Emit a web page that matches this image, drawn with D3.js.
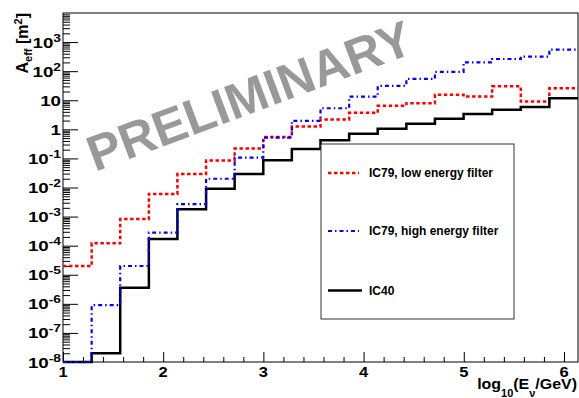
<!DOCTYPE html>
<html><head><meta charset="utf-8">
<script src="https://cdn.jsdelivr.net/npm/d3@7"></script>
<style>
body{margin:0;background:#fff}
svg{display:block;font-family:"Liberation Sans",Arial,Helvetica,sans-serif;font-weight:bold}
</style>
</head><body>
<svg id="c" width="579" height="398"></svg>
<script>
// ---- data ----
const binEdges = [1.000,1.286,1.571,1.857,2.142,2.428,2.713,2.999,3.284,3.570,3.856,4.141,4.427,4.712,4.998,5.283,5.569,5.854,6.140];
const ic79Low  = [2e-5,1.2e-4,8.2e-4,6e-3,0.029,0.085,0.22,0.54,1.25,2.2,3.7,6.5,7.9,15.4,13.4,30,9.1,26];
const ic79High = [1e-8,9e-7,2e-5,2.8e-4,2.7e-3,0.02,0.107,0.52,1.95,5.3,13.4,31,54,95,200,262,318,550];
const ic40     = [1e-8,2e-8,3.6e-6,1.7e-4,1.8e-3,9e-3,0.029,0.086,0.21,0.42,0.71,1.05,1.55,2.3,3.4,4.7,5.9,11.8];
const xMajorTicks = [1,2,3,4,5,6];
const yDecadeExps = [-8,-7,-6,-5,-4,-3,-2,-1,0,1,2,3];
const legendLabels = ["IC79, low energy filter","IC79, high energy filter","IC40"];
const xDomain = [1, 6.14];
const yDomain = [1e-8, 1e4];

// ---- layout ----
const L = 63, R = 578, T = 13, B = 362;
const svg = d3.select("#c");
const x = d3.scaleLinear().domain(xDomain).range([L, R]);
const y = d3.scaleLog().domain(yDomain).range([B, T]);

// watermark
svg.append("text")
  .attr("transform", "translate(95,172) rotate(-20.5)")
  .attr("font-size", 50).attr("fill", "#999")
  .text("PRELIMINARY");

// minor ticks
const xMinor = [];
for (let v = 1; v <= 6.14 + 1e-9; v = Math.round((v + 0.2) * 10) / 10) if (Math.abs(v - Math.round(v)) > 1e-6) xMinor.push(v);
const yMinor = [];
for (let e = -8; e < 4; e++) for (let m = 2; m <= 9; m++) yMinor.push(m * Math.pow(10, e));

svg.append("g").attr("transform", `translate(0,${B})`)
  .call(d3.axisBottom(x).tickValues(xMinor).tickSizeInner(-5).tickSizeOuter(0).tickFormat(""))
  .call(g => g.select(".domain").remove());
svg.append("g").attr("transform", `translate(0,${B})`)
  .call(d3.axisBottom(x).tickValues(xMajorTicks).tickSizeInner(-10).tickSizeOuter(0).tickFormat(""))
  .call(g => g.select(".domain").remove());
svg.append("g").attr("transform", `translate(${L},0)`)
  .call(d3.axisLeft(y).tickValues(yMinor).tickSizeInner(-7).tickSizeOuter(0).tickFormat(""))
  .call(g => g.select(".domain").remove());
svg.append("g").attr("transform", `translate(${L},0)`)
  .call(d3.axisLeft(y).tickValues(yDecadeExps.map(e => Math.pow(10, e))).tickSizeInner(-15).tickSizeOuter(0).tickFormat(""))
  .call(g => g.select(".domain").remove());

// x tick labels
svg.append("g").selectAll("text").data(xMajorTicks).join("text")
  .attr("transform", d => `translate(${x(d)},377) scale(1.1,1)`)
  .attr("text-anchor", "middle")
  .attr("font-size", 15).text(d => d);

// y tick labels
const yl = svg.append("g").selectAll("text").data(yDecadeExps).join("text")
  .attr("transform", d => `translate(61,${y(Math.pow(10, d)) + 5.5}) scale(1.25,1)`)
  .attr("text-anchor", "end")
  .attr("font-size", 15);
yl.each(function(d) {
  const t = d3.select(this);
  if (d === 0) t.text("1");
  else if (d === 1) t.text("10");
  else {
    t.append("tspan").text("10");
    t.append("tspan").attr("font-size", 11).attr("dy", -6).text(d);
  }
});

// frame
svg.append("rect").attr("x", L).attr("y", T).attr("width", R - L).attr("height", B - T)
  .attr("fill", "none").attr("stroke", "#000").attr("stroke-width", 1);

// histograms
function stepPts(vals) {
  const pts = vals.map((v, i) => [binEdges[i], v]);
  pts.push([binEdges[binEdges.length - 1], vals[vals.length - 1]]);
  return pts;
}
const line = d3.line().x(d => x(d[0])).y(d => y(d[1])).curve(d3.curveStepAfter);
const series = [
  {vals: ic79Low, color: "#ff0000", dash: "3.5,2.5", w: 2.5},
  {vals: ic40, color: "#000000", dash: null, w: 2.5},
  {vals: ic79High, color: "#0000ff", dash: "4,3,1.5,3", w: 2.2}
];
series.forEach(s => {
  svg.append("path").attr("d", line(stepPts(s.vals)))
    .attr("fill", "none").attr("stroke", s.color).attr("stroke-width", s.w)
    .attr("stroke-dasharray", s.dash);
});

// legend
svg.append("rect").attr("x", 321).attr("y", 144).attr("width", 193).attr("height", 175)
  .attr("fill", "#fff").attr("stroke", "#333").attr("stroke-width", 1);
const legStyles = [series[0], series[2], series[1]];
const legY = [173, 231, 290.5];
legendLabels.forEach((lab, i) => {
  const s = legStyles[i];
  svg.append("line").attr("x1", 328).attr("x2", i === 2 ? 362 : 359).attr("y1", legY[i]).attr("y2", legY[i])
    .attr("stroke", s.color).attr("stroke-width", s.w).attr("stroke-dasharray", s.dash);
  svg.append("text").attr("x", 369).attr("y", legY[i] + 4.2).attr("font-size", 12).text(lab);
});

// axis titles
const xt = svg.append("text").attr("transform", "translate(577,389) scale(1.1,1)")
  .attr("text-anchor", "end").attr("font-size", 14.5);
xt.append("tspan").text("log");
xt.append("tspan").attr("font-size", 10).attr("dy", 8).text("10");
xt.append("tspan").attr("dy", -8).text("(E");
xt.append("tspan").attr("font-size", 10).attr("dy", 8).text("ν");
xt.append("tspan").attr("dy", -8).text("/GeV)");

const yt = svg.append("text").attr("transform", "translate(28,13) rotate(-90)")
  .attr("text-anchor", "end").attr("font-size", 16);
yt.append("tspan").text("A");
yt.append("tspan").attr("font-size", 11).attr("dy", 4).text("eff");
yt.append("tspan").attr("dy", -4).text(" [m");
yt.append("tspan").attr("font-size", 11).attr("dy", -6).text("2");
yt.append("tspan").attr("dy", 6).text("]");
</script>
</body></html>
